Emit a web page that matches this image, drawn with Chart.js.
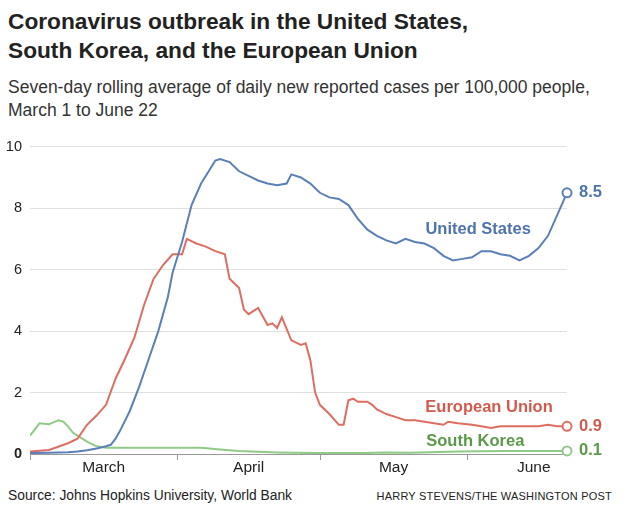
<!DOCTYPE html>
<html><head><meta charset="utf-8">
<script src="https://cdn.jsdelivr.net/npm/chart.js@4/dist/chart.umd.min.js"></script>
<style>
body{margin:0;background:#fff;font-family:"Liberation Sans",Arial,sans-serif;width:635px;height:517px;position:relative;overflow:hidden}
#t{position:absolute;left:8px;top:7px;font:bold 22.7px "Liberation Sans",Arial,sans-serif;line-height:29px;color:#222}
#s{position:absolute;left:8px;top:76px;font:17.5px "Liberation Sans",Arial,sans-serif;line-height:23px;color:#333}
#src{position:absolute;left:8px;top:488px;font:13.8px "Liberation Sans",Arial;color:#222}
#by{position:absolute;right:23px;top:490px;font:11px "Liberation Sans",Arial;color:#222;letter-spacing:0.2px}
#c{position:absolute;left:0;top:130px}
</style></head><body>
<div id="t">Coronavirus outbreak in the United States,<br>South Korea, and the European Union</div>
<div id="s">Seven-day rolling average of daily new reported cases per 100,000 people,<br>March 1 to June 22</div>
<div id="c"><canvas id="cv" width="635" height="355"></canvas></div>
<div id="src">Source: Johns Hopkins University, World Bank</div>
<div id="by">HARRY STEVENS/THE WASHINGTON POST</div>
<script>
const usDays=[0,4,8,10,12,14,16,17,18,19,21,23,25,27,29,30,32,34,36,38,39,40,42,44,46,48,50,52,54,55,57,59,61,63,65,67,69,71,73,75,77,79,81,83,85,87,89,91,93,95,97,99,101,103,105,107,109,111,113];
const usVals=[0.03,0.04,0.06,0.08,0.12,0.18,0.25,0.3,0.5,0.77,1.4,2.2,3.1,4.0,5.1,5.9,6.9,8.1,8.8,9.3,9.55,9.6,9.5,9.2,9.05,8.9,8.8,8.75,8.8,9.1,9.0,8.8,8.5,8.35,8.3,8.1,7.65,7.3,7.1,6.95,6.85,7.0,6.9,6.85,6.7,6.45,6.3,6.35,6.4,6.6,6.6,6.5,6.45,6.3,6.45,6.7,7.1,7.8,8.5];
const euDays=[0,4,8,10,12,14,16,18,20,22,24,26,28,30,32,33,35,37,39,41,42,44,45,46,48,50,51,52,53,55,57,58,59,60,61,63,65,66,67,68,69,71,72,73,75,77,79,81,83,85,87,88,90,93,95,97,99,101,103,105,107,109,111,113];
const euVals=[0.08,0.13,0.35,0.5,0.95,1.25,1.6,2.45,3.1,3.8,4.85,5.7,6.15,6.5,6.5,7.0,6.85,6.75,6.6,6.5,5.7,5.4,4.7,4.55,4.75,4.2,4.25,4.1,4.45,3.7,3.55,3.6,3.05,2.0,1.6,1.3,0.95,0.95,1.75,1.8,1.7,1.7,1.6,1.45,1.3,1.2,1.1,1.1,1.05,1.0,0.95,1.05,1.0,0.95,0.9,0.85,0.9,0.9,0.9,0.9,0.9,0.95,0.9,0.9];
const skDays=[0,2,4,6,7,8,9,10,12,14,16,20,28,36,40,44,48,52,60,70,75,80,90,100,113];
const skVals=[0.6,1.0,0.97,1.1,1.05,0.9,0.7,0.6,0.4,0.25,0.2,0.2,0.2,0.2,0.15,0.1,0.07,0.05,0.03,0.03,0.05,0.04,0.08,0.1,0.1];
const monthStarts=[0,31,61,92];
const monthLabels=['March','April','May','June'];
const monthLabelDays=[15.5,46,76.5,106];
const yTicks=[0,2,4,6,8,10];
const series=[
 {name:'United States',days:usDays,vals:usVals,line:'#5b7fb8',text:'#4e73ad',end:'8.5',lx:94.3,ly:7.3},
 {name:'European Union',days:euDays,vals:euVals,line:'#de6d62',text:'#d35a4e',end:'0.9',lx:96.6,ly:1.5},
 {name:'South Korea',days:skDays,vals:skVals,line:'#8fcb86',text:'#5a9a48',end:'0.1',lx:93.7,ly:0.4}
];
const deco={id:'deco',afterDatasetsDraw(ch){
 const c=ch.ctx,x=ch.scales.x,y=ch.scales.y;
 c.save();
 c.strokeStyle='#999';c.lineWidth=1;
 monthStarts.forEach(d=>{const px=Math.round(x.getPixelForValue(d))+0.5;c.beginPath();c.moveTo(px,y.bottom);c.lineTo(px,y.bottom+6);c.stroke();});
 c.fillStyle='#222';c.font='15.5px "Liberation Sans",Arial';c.textAlign='center';c.textBaseline='top';
 monthLabels.forEach((l,i)=>c.fillText(l,x.getPixelForValue(monthLabelDays[i]),y.bottom+6));
 series.forEach(s=>{
  const n=s.days.length-1,px=x.getPixelForValue(s.days[n]),py=y.getPixelForValue(s.vals[n]);
  c.beginPath();c.arc(px,py,4.5,0,Math.PI*2);c.fillStyle='#fff';c.fill();c.strokeStyle=s.line;c.lineWidth=2;c.stroke();
  c.fillStyle=s.text;c.font='bold 16.5px "Liberation Sans",Arial';c.textAlign='left';c.textBaseline='middle';
  c.fillText(s.end,px+12,py);
  c.textAlign='center';c.fillText(s.name,x.getPixelForValue(s.lx),y.getPixelForValue(s.ly));
 });
 c.restore();
}};
new Chart(document.getElementById('cv'),{type:'scatter',
 data:{datasets:series.map(s=>({data:s.days.map((d,i)=>({x:d,y:s.vals[i]})),showLine:true,borderColor:s.line,borderWidth:2,pointRadius:0,tension:0,fill:false}))},
 options:{responsive:false,animation:false,events:[],
  layout:{padding:{top:14,right:68,left:0,bottom:0}},
  plugins:{legend:{display:false},tooltip:{enabled:false}},
  scales:{
   x:{type:'linear',min:0,max:113,grid:{display:false},border:{display:false},ticks:{display:false},afterFit(s){s.height=31;}},
   y:{min:0,max:10,afterFit(s){s.width=30;},afterBuildTicks(s){s.ticks=yTicks.map(v=>({value:v}));},
      grid:{color:c=>c.tick.value===0?'#999':'#e0e0e0',drawTicks:false},border:{display:false},
      ticks:{padding:8,color:'#222',font:c=>({size:14.5,family:'"Liberation Sans",Arial',weight:c.tick&&c.tick.value===0?'bold':'normal'})}}
  }},
 plugins:[deco]});
</script>
</body></html>
